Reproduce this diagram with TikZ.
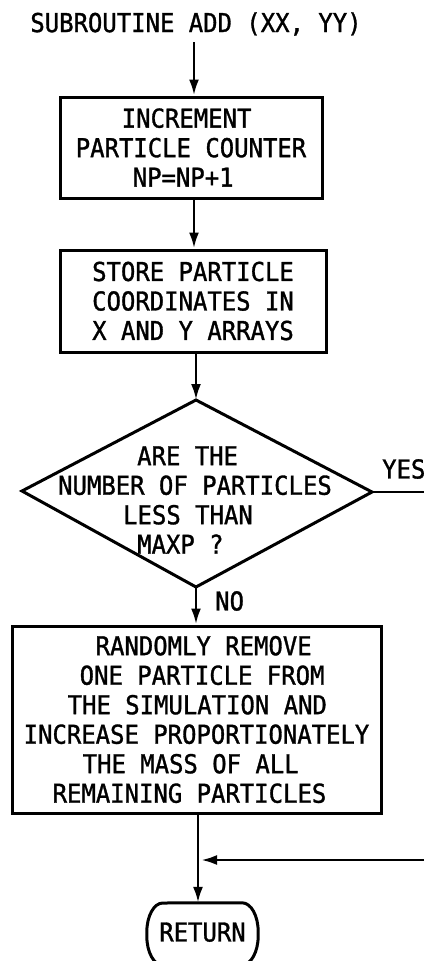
\documentclass[tikz,border=0pt]{standalone}
\usepackage{fontspec}
\usetikzlibrary{arrows.meta}
\newfontfamily\pfam[FakeStretch=0.92,FakeBold=1.2]{DejaVu Sans Mono}
\tikzset{
  txt/.style={font=\pfam\fontsize{26}{29.5}\selectfont, inner sep=0pt},
  procbox/.style={txt, draw, line width=3pt, rectangle, align=left},
  conn/.style={line width=2.8pt},
  arr/.style={conn, -{Latex[length=16pt,width=10pt]}},
  retbox/.style={txt, minimum width=111pt, minimum height=62pt}
}
\begin{document}
\begin{tikzpicture}[x=1pt,y=-1pt]
\useasboundingbox (0,0) rectangle (424,961);
\clip (0,0) rectangle (424,961);
\node[txt] (title) at (196,24) {SUBROUTINE ADD (XX, YY)};
\node[procbox, minimum width=262pt, minimum height=101pt] (b1) at (191,147.5)
  {\hspace*{46pt}INCREMENT\\PARTICLE COUNTER\\\hspace*{57pt}NP=NP+1};
\node[procbox, minimum width=266pt, minimum height=102pt] (b2) at (193,301)
  {STORE PARTICLE\\COORDINATES IN\\X AND Y ARRAYS};
\coordinate (dt) at (196,400);
\coordinate (dl) at (22,491);
\coordinate (dr) at (372,492);
\coordinate (db) at (196,587);
\draw[line width=3pt, line join=miter] (dt) -- (dr) -- (db) -- (dl) -- cycle;
\node[txt, align=left] (dtext) at (195,500)
  {\hspace*{79pt}ARE THE\\NUMBER OF PARTICLES\\\hspace*{65pt}LESS THAN\\\hspace*{79pt}MAXP ?};
\node[procbox, minimum width=369pt, minimum height=187pt] (b3) at (196.5,719.5)
  {\hspace*{72pt}RANDOMLY REMOVE\\\hspace*{56pt}ONE PARTICLE FROM\\\hspace*{44pt}THE SIMULATION AND\\INCREASE PROPORTIONATELY\\\hspace*{59pt}THE MASS OF ALL\\\hspace*{29pt}REMAINING PARTICLES};
\node[retbox] (ret) at (202.5,934) {\raisebox{4pt}{RETURN}};
\draw[line width=3pt] (ret.west) ++(0,-2)
  arc[start angle=180, end angle=90, x radius=16pt, y radius=29pt]
  -- ([xshift=-16pt]ret.north east)
  arc[start angle=90, end angle=0, x radius=16pt, y radius=29pt]
  -- ++(0,4)
  arc[start angle=0, end angle=-90, x radius=16pt, y radius=29pt]
  -- ([xshift=16pt]ret.south west)
  arc[start angle=-90, end angle=-180, x radius=16pt, y radius=29pt]
  -- cycle;
\node[txt, anchor=west] (yes) at (382,469) {YES};
\node[txt, anchor=west] (no) at (215,601) {NO};
\coordinate (yesend) at (424,492);
\coordinate (j) at (198,860);
\coordinate (retend) at (424,860);
\coordinate (t0) at (194,42);
\draw[arr] (t0) -- (b1.north -| t0);
\draw[arr] (b1.south -| t0) -- (b2.north -| t0);
\draw[arr] (b2.south -| dt) -- (dt);
\draw[conn] (dr) -- (yesend);
\draw[arr] (db) -- (b3.north -| db);
\draw[conn] (b3.south -| j) -- (j);
\draw[arr] (j) -- (ret.north -| j);
\draw[arr] (retend) -- ([xshift=3pt]j);
\end{tikzpicture}
\end{document}
